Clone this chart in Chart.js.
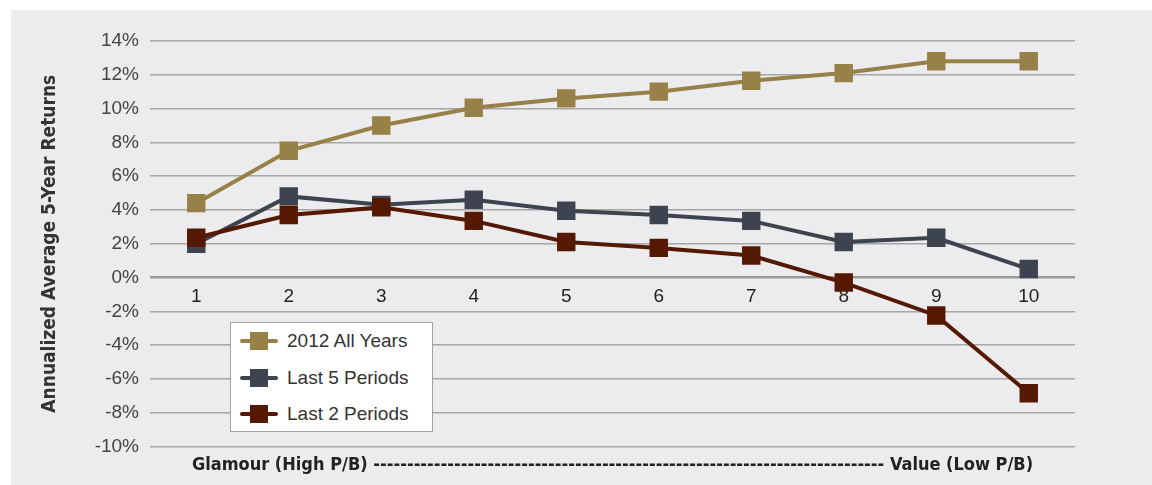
<!DOCTYPE html>
<html>
<head>
<meta charset="utf-8">
<script src="https://cdn.jsdelivr.net/npm/chart.js@4/dist/chart.umd.min.js"></script>
<style>
    html, body { margin: 0; padding: 0; background: #fff; }
    .wrap { position: relative; width: 1152px; height: 485px; overflow: hidden; }
    .panel { position: absolute; left: 11px; top: 10px; right: 0; bottom: 0; background: #ececee; }
    #chart { position: absolute; left: 0; top: 0; }
    .legend {
        position: absolute; left: 230px; top: 322px; width: 201px; height: 108px;
        background: #fff; border: 1px solid #a3a3a3;
        font-family: 'Liberation Sans', Arial, sans-serif; font-size: 19px; color: #333;
    }
    .legend__item { position: absolute; left: 9px; height: 24px; }
    .legend__line { position: absolute; left: 0; top: 10px; width: 38px; height: 4px; border-radius: 2px; }
    .legend__box { position: absolute; left: 10px; top: 3px; width: 18px; height: 18px; }
    .legend__text { position: absolute; left: 47px; top: 0; line-height: 24px; white-space: nowrap; }
</style>
</head>
<body>
<div class="wrap">
    <div class="panel"></div>
    <canvas id="chart" width="1152" height="485"></canvas>
    <div class="legend" id="legend"></div>
</div>
<script>
var categories = ['1', '2', '3', '4', '5', '6', '7', '8', '9', '10'];
var allYears = [4.4, 7.5, 9.0, 10.05, 10.6, 11.0, 11.65, 12.1, 12.8, 12.8];
var last5 = [2.0, 4.8, 4.3, 4.6, 3.95, 3.7, 3.35, 2.1, 2.35, 0.5];
var last2 = [2.35, 3.7, 4.15, 3.35, 2.1, 1.75, 1.3, -0.3, -2.25, -6.85];
var seriesNames = ['2012 All Years', 'Last 5 Periods', 'Last 2 Periods'];
var seriesColors = ['#978148', '#3d444f', '#551800'];
var yTicks = { min: -10, max: 14, step: 2 };
var yTitle = 'Annualized Average 5-Year Returns';
var xTitle = 'Glamour (High P/B) ' + '-'.repeat(76) + ' Value (Low P/B)';

document.addEventListener('DOMContentLoaded', function () {
    var font = "'Liberation Sans', Arial, sans-serif";
    var narrow = "'Liberation Sans Narrow', 'DejaVu Sans Condensed', 'Liberation Sans', Arial, sans-serif";
    var values = [allYears, last5, last2];

    var datasets = values.map(function (data, i) {
        return {
            label: seriesNames[i],
            data: data,
            borderColor: seriesColors[i],
            backgroundColor: seriesColors[i],
            pointBackgroundColor: seriesColors[i],
            borderWidth: 4,
            pointStyle: 'rect',
            pointRadius: 13,
            pointBorderWidth: 0,
            order: 2 - i,
            tension: 0
        };
    });

    var ctx = document.getElementById('chart').getContext('2d');
    new Chart(ctx, {
        type: 'line',
        data: { labels: categories, datasets: datasets },
        options: {
            responsive: false,
            animation: false,
            layout: { padding: { left: 11, top: 41, right: 77, bottom: 9 } },
            plugins: {
                legend: { display: false },
                tooltip: { enabled: false }
            },
            scales: {
                x: {
                    position: { y: 0 },
                    offset: true,
                    grid: { display: false, drawTicks: false },
                    border: { display: false },
                    ticks: { padding: 8, color: '#222', font: { family: font, size: 19 } }
                },
                xb: {
                    type: 'category',
                    labels: categories,
                    position: 'bottom',
                    grid: { display: false, drawTicks: false },
                    border: { display: false },
                    ticks: { display: false },
                    title: {
                        display: true,
                        text: xTitle,
                        color: '#222',
                        padding: { top: 8, bottom: 0 },
                        font: { family: narrow, size: 18, weight: 'bold' }
                    }
                },
                y: {
                    min: yTicks.min,
                    max: yTicks.max,
                    afterFit: function (scale) { scale.width = 139; },
                    grid: {
                        drawTicks: false,
                        color: function (c) { return c.tick && c.tick.value === 0 ? '#999' : '#a6a6a6'; },
                        lineWidth: function (c) { return c.tick && c.tick.value === 0 ? 2.5 : 1.5; }
                    },
                    border: { display: false },
                    ticks: {
                        stepSize: yTicks.step,
                        padding: 11,
                        color: '#444',
                        font: { family: font, size: 19 },
                        callback: function (v) { return v + '%'; }
                    },
                    title: {
                        display: true,
                        text: yTitle,
                        color: '#333',
                        padding: { top: 28, bottom: 0 },
                        font: { family: narrow, size: 19, weight: 'bold' }
                    }
                }
            }
        }
    });

    var legend = document.getElementById('legend');
    seriesNames.forEach(function (name, i) {
        var item = document.createElement('div');
        item.className = 'legend__item';
        item.style.top = (6 + i * 36.5) + 'px';
        item.innerHTML = '<span class="legend__line" style="background:' + seriesColors[i] + '"></span>' +
            '<span class="legend__box" style="background:' + seriesColors[i] + '"></span>' +
            '<span class="legend__text">' + name + '</span>';
        legend.appendChild(item);
    });
});
</script>
</body>
</html>
